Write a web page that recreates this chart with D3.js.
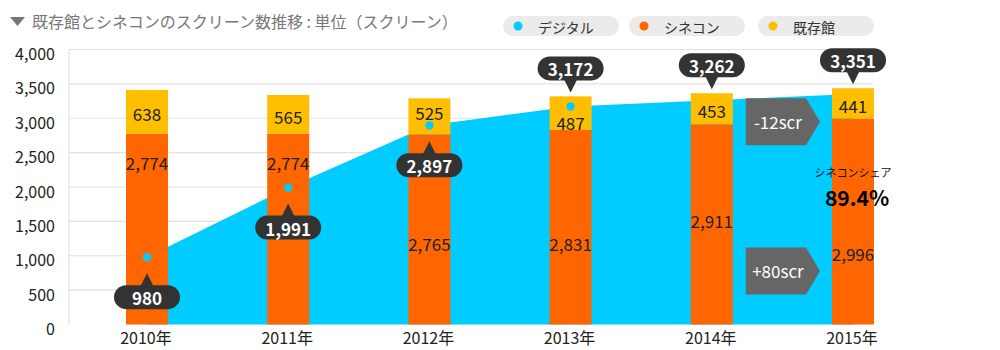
<!DOCTYPE html>
<html><head><meta charset="utf-8">
<script src="https://cdn.jsdelivr.net/npm/d3@7"></script>
<style>
html,body{margin:0;padding:0;background:#fff;}
svg{display:block;font-family:"Noto Sans CJK JP","Noto Sans",sans-serif;}
</style></head>
<body><svg id="c" width="1000" height="350"></svg>
<script>
const years = ["2010年","2011年","2012年","2013年","2014年","2015年"];
const digital = [980, 1991, 2897, 3172, 3262, 3351];
const cinecon = [2774, 2774, 2765, 2831, 2911, 2996];
const existing = [638, 565, 525, 487, 453, 441];
const yTicks = [0, 500, 1000, 1500, 2000, 2500, 3000, 3500, 4000];
const seriesNames = ["デジタル", "シネコン", "既存館"];
const titleText = "既存館とシネコンのスクリーン数推移 : 単位（スクリーン）";
const shareLabel = "シネコンシェア";
const shareValue = "89.4%";
const changeLabels = ["-12scr", "+80scr"];
const changeAnchors = [2950, 780];

const C_DIG = "#00ccff", C_CIN = "#ff6600", C_EX = "#ffbf00";
const fmt = d3.format(",");
const svg = d3.select("#c");

const x = d3.scalePoint().domain(years).range([147, 853]);
const y = d3.scaleLinear().domain([0, 4000]).range([324.5, 49.5]);
const bw = 42;

// title
svg.append("path").attr("d", "M10,17 L25,17 L17.5,26 Z").attr("fill", "#777");
svg.append("text").attr("x", 32).attr("y", 21).attr("dominant-baseline", "central")
  .attr("font-size", 16).attr("fill", "#777").text(titleText);

// legend
const legColors = [C_DIG, C_CIN, C_EX];
const legX = [503, 629, 758];
seriesNames.forEach((n, i) => {
  const g = svg.append("g").attr("transform", `translate(${legX[i]},16)`);
  g.append("rect").attr("width", 116).attr("height", 20).attr("rx", 10).attr("fill", "#ebebeb");
  g.append("circle").attr("cx", 15).attr("cy", 10).attr("r", 4.5).attr("fill", legColors[i]);
  g.append("text").attr("x", 35).attr("y", 10.5).attr("dominant-baseline", "central")
    .attr("font-size", 14).attr("fill", "#333").text(n);
});

// grid
svg.append("g").selectAll("line").data(yTicks.filter(d => d > 0)).join("line")
  .attr("x1", 69).attr("x2", 873).attr("y1", d => y(d)).attr("y2", d => y(d))
  .attr("stroke", "#e2e2e2").attr("stroke-width", 1.2);
svg.append("line").attr("x1", 69).attr("x2", 69).attr("y1", y(4000)).attr("y2", y(0))
  .attr("stroke", "#e2e2e2").attr("stroke-width", 1.2);

// y axis labels
svg.append("g").selectAll("text").data(yTicks).join("text")
  .attr("x", 55).attr("y", d => y(d) + 3.5).attr("text-anchor", "end")
  .attr("dominant-baseline", "central").attr("font-size", 16).attr("fill", "#222")
  .text(d => fmt(d));

// area
const area = d3.area().x((d, i) => x(years[i])).y0(y(0)).y1(d => y(d)).curve(d3.curveLinear);
svg.append("path").datum(digital).attr("d", area).attr("fill", C_DIG);

// bars
const bars = svg.append("g");
years.forEach((yr, i) => {
  const cx = x(yr);
  bars.append("rect").attr("x", cx - bw / 2).attr("width", bw)
    .attr("y", y(cinecon[i])).attr("height", y(0) - y(cinecon[i])).attr("fill", C_CIN);
  bars.append("rect").attr("x", cx - bw / 2).attr("width", bw)
    .attr("y", y(cinecon[i] + existing[i])).attr("height", y(0) - y(existing[i])).attr("fill", C_EX);
});

// x labels
svg.append("g").selectAll("text").data(years).join("text")
  .attr("x", d => x(d) - 1).attr("y", 337).attr("text-anchor", "middle")
  .attr("dominant-baseline", "central").attr("font-size", 16).attr("fill", "#222").text(d => d);

const dotYears = 4; // dots shown for first four years
// yellow labels
years.forEach((yr, i) => {
  const top = y(cinecon[i] + existing[i]), bot = y(cinecon[i]);
  let cy = (top + bot) / 2 + 2;
  if (i < dotYears) {
    const dy = y(digital[i]);
    if (dy > top && dy < bot) cy += (dy > cy ? -6 : 7);
  }
  svg.append("text").attr("x", x(yr)).attr("y", cy).attr("text-anchor", "middle")
    .attr("dominant-baseline", "central").attr("font-size", 17).attr("fill", "#222").text(fmt(existing[i]));
});
// orange labels
years.forEach((yr, i) => {
  const top = y(cinecon[i]);
  let cy;
  if (i < 2) cy = top + 29;
  else if (i < 4) cy = y(1180);
  else if (i === 4) cy = y(1515);
  else cy = y(1040);
  svg.append("text").attr("x", x(yr)).attr("y", cy).attr("text-anchor", "middle")
    .attr("dominant-baseline", "central").attr("font-size", 17).attr("fill", "#222").text(fmt(cinecon[i]));
});

// dots
svg.append("g").selectAll("circle").data(digital.slice(0, dotYears)).join("circle")
  .attr("cx", (d, i) => x(years[i])).attr("cy", d => y(d)).attr("r", 4.2).attr("fill", C_DIG);

// callouts
function callout(cx, tipY, below, label) {
  const g = svg.append("g");
  const pw = 66, ph = 24, th = 12;
  let pTop;
  if (below) {
    pTop = tipY + th;
    g.append("path").attr("d", `M${cx},${tipY} L${cx - 7},${pTop + 2} L${cx + 7},${pTop + 2} Z`).attr("fill", "#333");
  } else {
    pTop = tipY - th - ph;
    g.append("path").attr("d", `M${cx},${tipY} L${cx - 7},${pTop + ph - 2} L${cx + 7},${pTop + ph - 2} Z`).attr("fill", "#333");
  }
  g.append("rect").attr("x", cx - pw / 2).attr("y", pTop).attr("width", pw).attr("height", ph)
    .attr("rx", 12).attr("fill", "#333");
  g.append("text").attr("x", cx).attr("y", pTop + ph / 2 + 0.5).attr("text-anchor", "middle")
    .attr("dominant-baseline", "central").attr("font-size", 17).attr("font-weight", "bold")
    .attr("fill", "#fff").text(label);
}
years.forEach((yr, i) => {
  if (i < 3) callout(x(yr), y(digital[i]) + 16, true, fmt(digital[i]));
  else callout(x(yr), y(cinecon[i] + existing[i]) - 4, false, fmt(digital[i]));
});

// change arrows
changeLabels.forEach((t, i) => {
  const x0 = x(years[4]) + 34, x1 = x(years[5]) - 47, xt = x(years[5]) - 33;
  const cy = y(changeAnchors[i]);
  const h = 47;
  svg.append("path").attr("d", `M${x0},${cy - h / 2} L${x1},${cy - h / 2} L${xt},${cy} L${x1},${cy + h / 2} L${x0},${cy + h / 2} Z`)
    .attr("fill", "#666");
  svg.append("text").attr("x", (x0 + x1) / 2 + 2).attr("y", cy).attr("text-anchor", "middle")
    .attr("dominant-baseline", "central").attr("font-size", 17).attr("fill", "#fff").text(t);
});

// share annotation
svg.append("text").attr("x", x(years[5])).attr("y", 172).attr("text-anchor", "middle")
  .attr("dominant-baseline", "central").attr("font-size", 11).attr("fill", "#111").text(shareLabel);
svg.append("text").attr("x", x(years[5]) + 4).attr("y", 197).attr("text-anchor", "middle")
  .attr("dominant-baseline", "central").attr("font-size", 21).attr("font-weight", "bold")
  .attr("fill", "#000").text(shareValue);
</script></body></html>
